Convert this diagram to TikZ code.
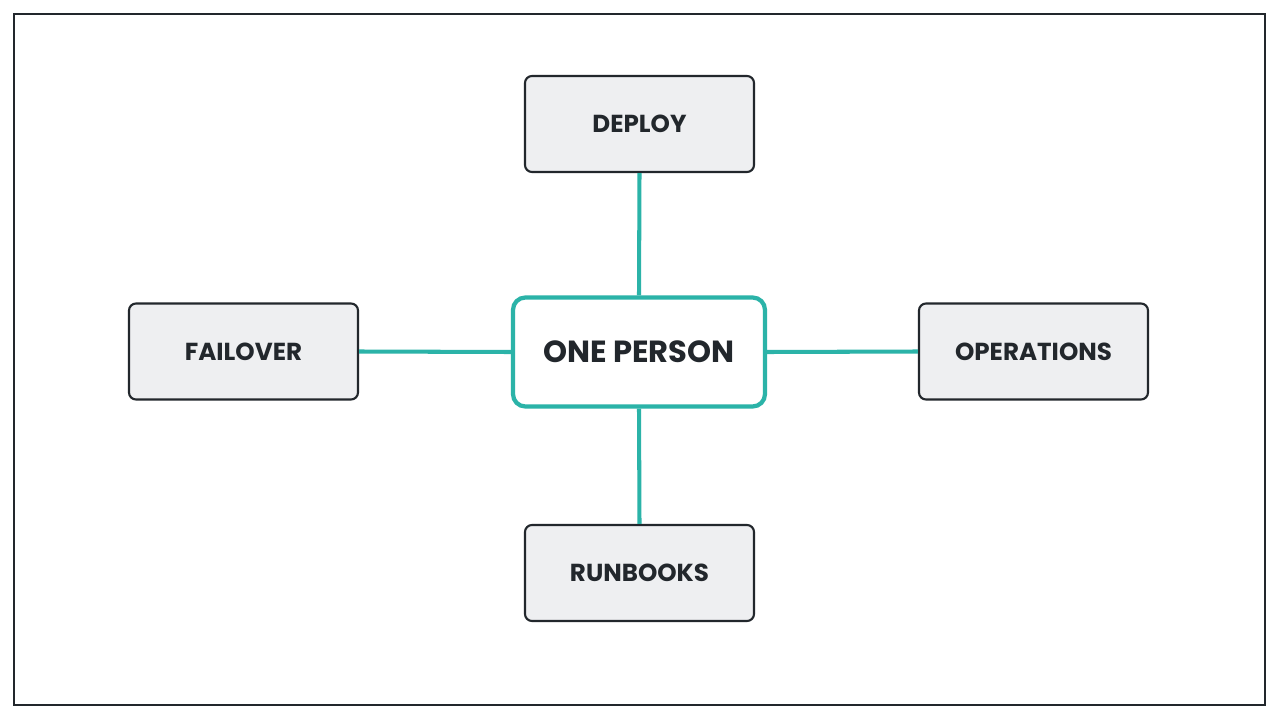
\documentclass[tikz,border=0pt]{standalone}
\usepackage{fontspec}
\setmainfont{Poppins}
\definecolor{teal2}{HTML}{2BB3A8}
\definecolor{ink}{HTML}{22272C}
\definecolor{boxfill}{HTML}{EEEFF1}
\begin{document}
\begin{tikzpicture}[x=0.02cm,y=-0.02cm,
  leaf/.style={draw=ink,line width=1.2pt,fill=boxfill,rounded corners=4pt,minimum width=229*0.02cm,minimum height=96*0.02cm,font=\fontsize{14}{16}\selectfont\bfseries,text=ink},
  hub/.style={draw=teal2,line width=2.4pt,fill=white,rounded corners=7pt,minimum width=252*0.02cm,minimum height=109*0.02cm,font=\fontsize{17.4}{19}\selectfont\bfseries,text=ink},
  link/.style={draw=teal2,line width=2.3pt}]
\useasboundingbox (0,0) rectangle (1279,720);
\fill[white] (0,0) rectangle (1279,720);
\draw[ink,line width=1.1pt] (14,14) rectangle (1265,705);
\node[hub] (c) at (639,352) {ONE PERSON};
\node[leaf] (d) at (639.5,124) {DEPLOY};
\node[leaf] (f) at (243.5,351.5) {FAILOVER};
\node[leaf] (o) at (1033.5,351.5) {OPERATIONS};
\node[leaf] (r) at (639.5,573) {RUNBOOKS};
\draw[link] (d.south) -- (c.north);
\draw[link] (c.south) -- (r.north);
\draw[link] (f.east) -- (c.west);
\draw[link] (c.east) -- (o.west);
\end{tikzpicture}
\end{document}
